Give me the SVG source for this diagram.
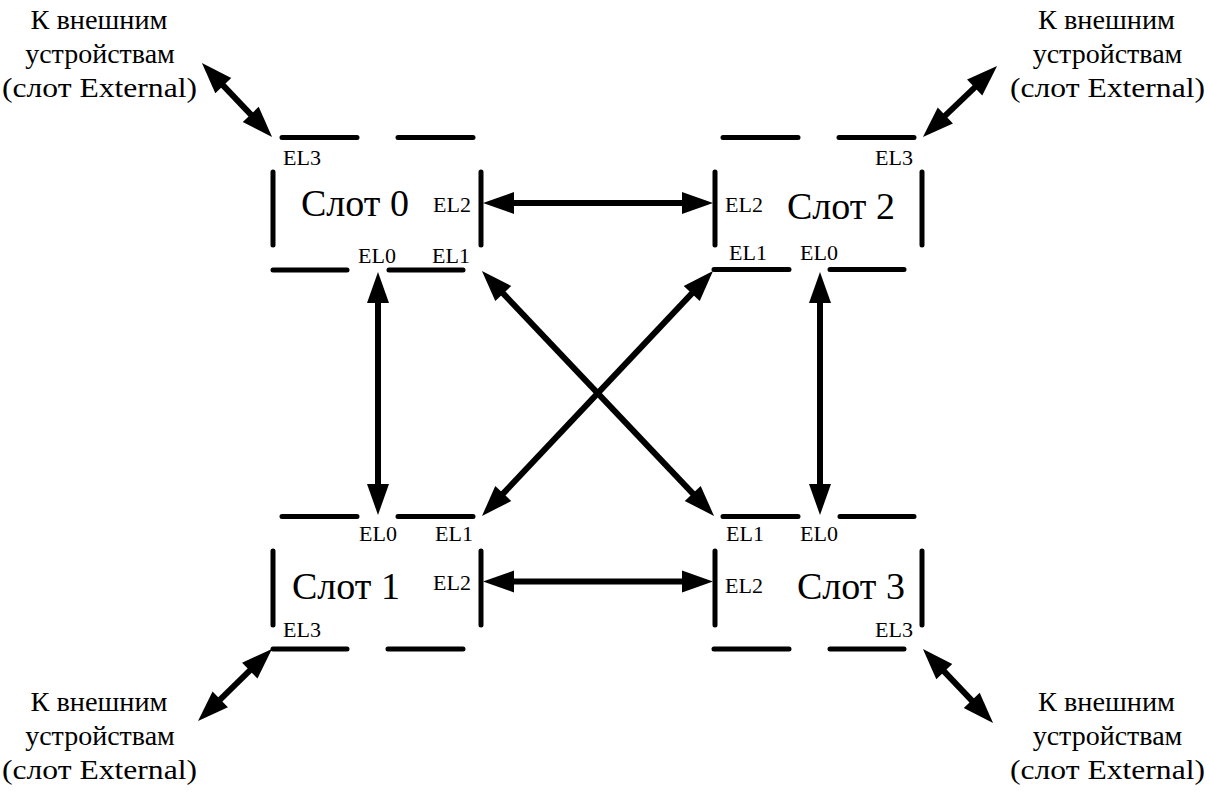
<svg xmlns="http://www.w3.org/2000/svg" width="1210" height="796" viewBox="0 0 1210 796">
<style>
.sl{stroke:#000;stroke-width:5;stroke-linecap:round;fill:none}
.ar{stroke:#000;stroke-width:6;fill:none;marker-start:url(#ah);marker-end:url(#ah)}
.big{font-family:"Liberation Serif","Times New Roman",serif;font-size:38px;fill:#000}
.el{font-family:"Liberation Serif","Times New Roman",serif;font-size:22px;fill:#000}
.ext{font-family:"Liberation Serif","Times New Roman",serif;font-size:28px;fill:#000;text-anchor:middle}
</style>
<defs>
<marker id="ah" markerUnits="userSpaceOnUse" orient="auto-start-reverse" refX="2" refY="0" markerWidth="40" markerHeight="30" overflow="visible">
<path d="M0,-11 L31,0 L0,11 z" fill="#000"/>
</marker>
</defs>
<rect width="1210" height="796" fill="#fff"/>

<g id="slot0">
<path class="sl" d="M282,137.5H357M398,137.5H473M273,172V245M481,172V245M273,270H347M389,270H463"/>
<text class="big" x="301" y="215.5">Слот 0</text>
<text class="el" x="283" y="165">EL3</text>
<text class="el" x="433" y="211.5">EL2</text>
<text class="el" x="358" y="263">EL0</text>
<text class="el" x="432" y="263">EL1</text>
</g>

<g id="slot2">
<path class="sl" d="M723,137.5H798M839,137.5H914M715,172V245M922,172V245M714,269.5H789M830,269.5H904"/>
<text class="big" x="787" y="219">Слот 2</text>
<text class="el" x="875" y="165">EL3</text>
<text class="el" x="725" y="211.5">EL2</text>
<text class="el" x="729" y="260">EL1</text>
<text class="el" x="800" y="260">EL0</text>
</g>

<g id="slot1">
<path class="sl" d="M282,516.5H357M398,516.5H473M273,551V625M481,551V625M273,649H347M388,649H463"/>
<text class="big" x="292" y="599">Слот 1</text>
<text class="el" x="359" y="540.5">EL0</text>
<text class="el" x="435" y="540.5">EL1</text>
<text class="el" x="433" y="590">EL2</text>
<text class="el" x="283" y="636.5">EL3</text>
</g>

<g id="slot3">
<path class="sl" d="M723,516.5H798M840,516.5H914M715,551V625M922,551V625M714,649H789M830,649H904"/>
<text class="big" x="797" y="599">Слот 3</text>
<text class="el" x="726" y="540.5">EL1</text>
<text class="el" x="800" y="540.5">EL0</text>
<text class="el" x="725" y="593">EL2</text>
<text class="el" x="875" y="636.5">EL3</text>
</g>

<g id="ext-tl">
<text class="ext" x="99" y="29" textLength="137" lengthAdjust="spacingAndGlyphs">К внешним</text>
<text class="ext" x="100" y="63">устройствам</text>
<text class="ext" x="99.5" y="97" textLength="195" lengthAdjust="spacingAndGlyphs">(слот External)</text>
</g>
<g id="ext-tr">
<text class="ext" x="1106.5" y="29" textLength="137" lengthAdjust="spacingAndGlyphs">К внешним</text>
<text class="ext" x="1107.5" y="63">устройствам</text>
<text class="ext" x="1107.5" y="97" textLength="195" lengthAdjust="spacingAndGlyphs">(слот External)</text>
</g>
<g id="ext-bl">
<text class="ext" x="99" y="711" textLength="137" lengthAdjust="spacingAndGlyphs">К внешним</text>
<text class="ext" x="100" y="745">устройствам</text>
<text class="ext" x="99.5" y="779" textLength="195" lengthAdjust="spacingAndGlyphs">(слот External)</text>
</g>
<g id="ext-br">
<text class="ext" x="1106.5" y="711" textLength="137" lengthAdjust="spacingAndGlyphs">К внешним</text>
<text class="ext" x="1107.5" y="745">устройствам</text>
<text class="ext" x="1107.5" y="779" textLength="195" lengthAdjust="spacingAndGlyphs">(слот External)</text>
</g>

<g id="connectors">
<line class="ar" x1="512" y1="203" x2="684" y2="203"/>
<line class="ar" x1="512" y1="581.5" x2="684" y2="581.5"/>
<line class="ar" x1="378" y1="301" x2="378" y2="486"/>
<line class="ar" x1="820" y1="301" x2="820" y2="486"/>
<line class="ar" x1="501.9" y1="292.1" x2="694.1" y2="494.9"/>
<line class="ar" x1="693.1" y1="292.1" x2="501.9" y2="494.9"/>
<line class="ar" x1="221.9" y1="84.1" x2="252.1" y2="115.9"/>
<line class="ar" x1="976.1" y1="86.1" x2="943.9" y2="116.9"/>
<line class="ar" x1="251.2" y1="669.2" x2="218.8" y2="700.8"/>
<line class="ar" x1="942.9" y1="670.1" x2="973.1" y2="701.9"/>
</g>
</svg>
